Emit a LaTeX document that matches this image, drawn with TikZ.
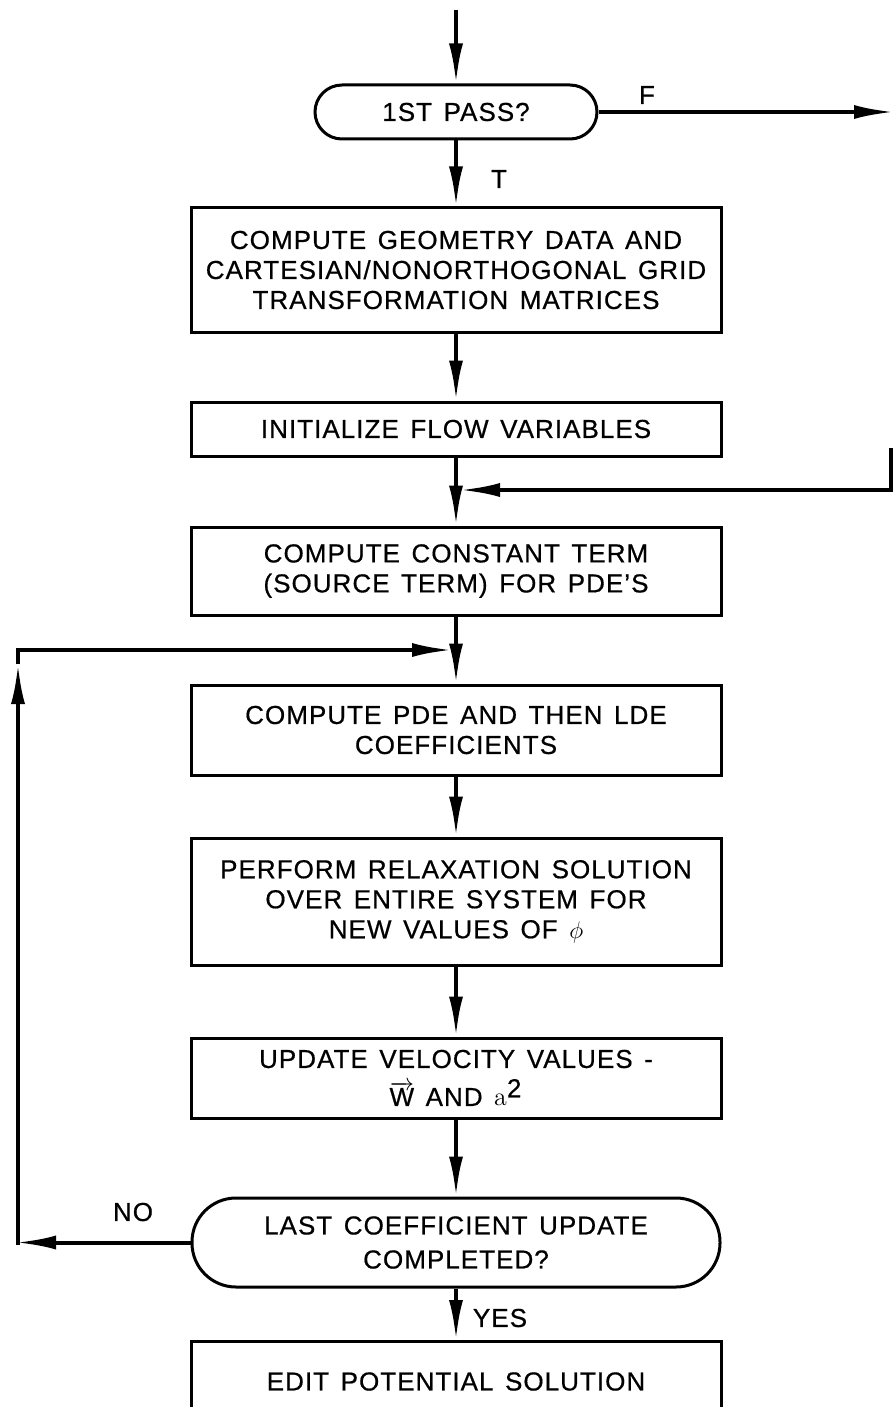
\documentclass[tikz,border=0pt]{standalone}
\usepackage{fontspec}
\setmainfont{Liberation Sans}[LetterSpace=4, WordSpace=1.4, FakeBold=0.6]
\usetikzlibrary{arrows.meta}

\begin{document}
\begin{tikzpicture}[x=0.5pt, y=-0.5pt,
	txt/.style={font=\fontsize{13}{15}\selectfont, align=center},
	procbox/.style={txt, draw, line width=1.5pt, minimum width=265pt, inner sep=0pt},
	testbox/.style={txt, draw, line width=1.5pt, inner sep=0pt},
	flow/.style={line width=2pt, -{Latex[length=20pt, width=7pt]}},
	lbl/.style={txt}]
	\clip (0,0) rectangle (894,1407);
	
	\node [testbox, minimum width=141pt, minimum height=27pt, rounded corners=13.5pt] (pass) at (456,112) {1ST PASS?};
	\node [procbox, minimum height=62pt] (geom) at (456,270) {COMPUTE GEOMETRY DATA AND\\CARTESIAN/NONORTHOGONAL GRID\\TRANSFORMATION MATRICES};
	\node [procbox, minimum height=27pt] (init) at (456,429) {INITIALIZE FLOW VARIABLES};
	\node [procbox, minimum height=44pt] (const) at (456,571) {COMPUTE CONSTANT TERM\\(SOURCE TERM) FOR PDE'S};
	\node [procbox, minimum height=45pt] (coef) at (456,730) {COMPUTE PDE AND THEN LDE\\COEFFICIENTS};
	\node [procbox, minimum height=63.5pt] (relax) at (456,901.5) {PERFORM RELAXATION SOLUTION\\OVER ENTIRE SYSTEM FOR\\NEW VALUES OF $\phi$};
	\node [procbox, minimum height=40pt] (veloc) at (456,1078) {UPDATE VELOCITY VALUES -\\[4pt]$\overrightarrow{\textrm{W}}$ AND {\fontfamily{lmr}\selectfont a}$^{\textrm{2}}$};
	\node [testbox, minimum width=264pt, minimum height=44.5pt, rounded corners=22pt] (done) at (456,1242.5) {LAST COEFFICIENT UPDATE\\[2pt]COMPLETED?};
	\node [procbox, minimum height=40pt, anchor=north] (edit) at (456,1340) {EDIT POTENTIAL SOLUTION};
	
	\coordinate (start) at (456,10);
	\coordinate (fout) at (894,112);
	\coordinate (fin) at (891,448);
	\coordinate (merge) at (460,490);
	\coordinate (nohit) at (16,1242.5);
	\coordinate (lbot) at (18,1242.5);
	\coordinate (lmid) at (18,664);
	\coordinate (ltop) at (18,650);
	\coordinate (loopin) at (452,650);
	
	\draw [flow] (start) -- (pass);
	\draw [flow] (pass) -- (fout);
	\draw [flow] (pass) -- (geom);
	\draw [flow] (geom) -- (init);
	\draw [flow] (init) -- (const);
	\draw [flow] (fin) |- (merge);
	\draw [flow] (const) -- (coef);
	\draw [flow] (coef) -- (relax);
	\draw [flow] (relax) -- (veloc);
	\draw [flow] (veloc) -- (done);
	\draw [flow] (done) -- (nohit);
	\draw [flow, line cap=rect] (lbot) -- (lmid);
	\draw [flow] (lmid) -- (ltop) -- (loopin);
	\draw [flow] (done) -- (edit);
	
	\node [lbl] (lblF) at (647,95) {F};
	\node [lbl] (lblT) at (499,179) {T};
	\node [lbl] (lblNO) at (133,1212) {NO};
	\node [lbl] (lblYES) at (500,1318) {YES};
\end{tikzpicture}
\end{document}
